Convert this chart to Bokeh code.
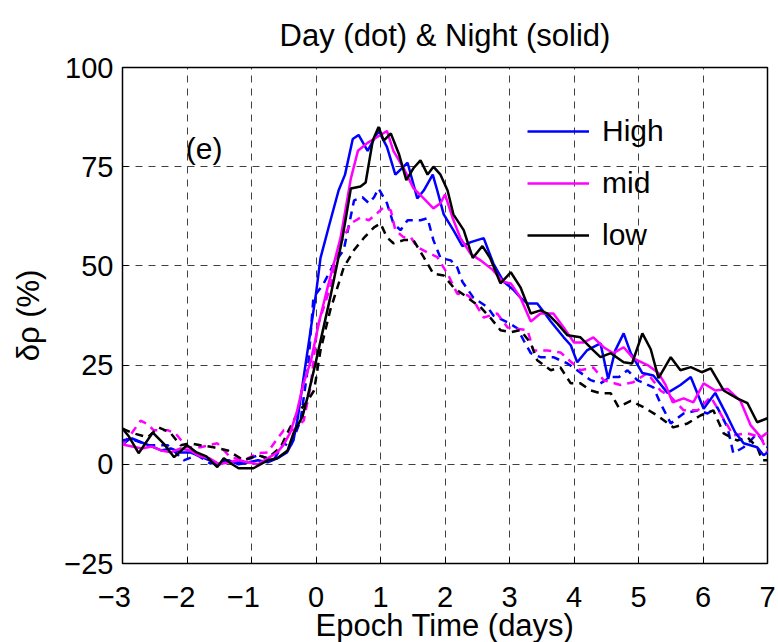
from bokeh.plotting import figure
from bokeh.models import Legend, LegendItem, Label, Title
from bokeh.embed import file_html
from bokeh.resources import INLINE

# ---------------- data ----------------
NIGHT_HIGH_X = [-3.0, -2.85, -2.7, -2.55, -2.4, -2.25, -2.1, -1.95, -1.8, -1.65,
                -1.5, -1.35, -1.2, -1.05, -0.9, -0.75, -0.6, -0.45, -0.35, -0.28,
                -0.2, -0.1, 0.0, 0.07, 0.2, 0.35, 0.45, 0.57, 0.66, 0.8,
                0.97, 1.1, 1.23, 1.42, 1.57, 1.67, 1.81, 1.88, 1.98, 2.13,
                2.27, 2.4, 2.5, 2.6, 2.75, 2.91, 3.06, 3.17, 3.28, 3.43,
                3.55, 3.64, 3.84, 3.95, 4.05, 4.2, 4.41, 4.53, 4.64, 4.77,
                4.88, 5.06, 5.23, 5.45, 5.65, 5.81, 6.01, 6.19, 6.38, 6.5,
                6.63, 6.84, 6.94, 7.0]
NIGHT_HIGH_Y = [6, 6.5, 5.5, 4.5, 3.5, 4, 3, 3, 2, 1,
                0, 1, 0, 0.5, 1, 0.5, 1.5, 3, 6, 12,
                21, 32, 43, 52, 60, 69, 73, 82, 83, 79,
                84, 80, 73, 76, 67, 69, 73, 69, 63, 59,
                55, 56, 56.5, 57, 50.6, 46, 44, 42, 40.5, 40.5,
                38, 36, 32, 30, 25.7, 28.7, 30.5, 21.5, 28.7, 33,
                28, 23, 22.4, 18, 20, 22, 14, 18, 12, 8,
                5.3, 4.3, 2.3, 3]

NIGHT_MID_X = [-3.0, -2.85, -2.7, -2.55, -2.4, -2.25, -2.1, -1.95, -1.8, -1.65,
               -1.5, -1.35, -1.2, -1.05, -0.9, -0.75, -0.6, -0.5, -0.4, -0.3,
               -0.2, -0.08, 0.05, 0.18, 0.38, 0.54, 0.65, 0.8, 1.0, 1.1,
               1.2, 1.36, 1.51, 1.67, 1.82, 1.93, 2.0, 2.12, 2.24, 2.4,
               2.55, 2.74, 2.9, 3.02, 3.17, 3.33, 3.48, 3.68, 3.84, 4.0,
               4.15, 4.3, 4.46, 4.61, 4.77, 4.92, 5.14, 5.31, 5.42, 5.53,
               5.7, 5.85, 6.01, 6.19, 6.38, 6.58, 6.74, 6.9, 7.0]
NIGHT_MID_Y = [5, 4.5, 4, 4.5, 3.5, 3, 4, 3.5, 2, 1.5,
               0, 0.5, 1, 0.5, 0, 1.5, 3, 5, 8, 13,
               20, 26, 36, 44.6, 57, 72, 79, 81, 83, 84,
               79, 74.6, 69.6, 67, 64.5, 65.8, 68, 62, 57, 53,
               51.4, 49, 46, 45.6, 42, 36, 38, 38, 34.5, 30.7,
               30.7, 32, 29.5, 28, 29.5, 26.7, 25, 23, 20, 15.6,
               16.6, 15.6, 20.4, 18.6, 19, 16, 9.8, 6.8, 8]

NIGHT_LOW_X = [-3.0, -2.9, -2.75, -2.53, -2.35, -2.2, -2.0, -1.85, -1.7, -1.53,
               -1.43, -1.3, -1.2, -0.97, -0.75, -0.6, -0.44, -0.35, -0.21, -0.13,
               0.0, 0.22, 0.41, 0.54, 0.69, 0.77, 0.88, 0.97, 1.05, 1.16,
               1.29, 1.4, 1.51, 1.62, 1.73, 1.82, 1.93, 2.04, 2.13, 2.29,
               2.43, 2.58, 2.7, 2.86, 3.02, 3.17, 3.33, 3.48, 3.59, 3.74,
               3.9, 4.1, 4.3, 4.41, 4.57, 4.77, 4.9, 5.06, 5.19, 5.31,
               5.5, 5.65, 5.81, 5.98, 6.12, 6.32, 6.53, 6.69, 6.84, 7.0]
NIGHT_LOW_Y = [9, 7, 2.8, 8, 5, 1.8, 4.8, 3, 2, -0.7,
               1.5, 0, -1, -1, 1, 1.5, 3.5, 7.8, 12, 17,
               26, 42, 57, 69.5, 70, 71, 81.6, 85, 81.6, 83.4,
               78, 71.6, 74.6, 76.6, 73, 75, 73, 69, 63, 59,
               52, 55, 52, 45.6, 48.4, 44.6, 38, 38.8, 38, 35.5,
               32.5, 32, 28.7, 27, 28, 25.7, 25.4, 33, 29, 21.7,
               27, 23.7, 24.5, 23.2, 24.2, 18.6, 16.6, 15.4, 10.6, 11.6]

DAY_HIGH_X = [-3.0, -2.88, -2.6, -2.3, -2.05, -1.84, -1.64, -1.37, -1.17, -0.9,
              -0.66, -0.5, -0.4, -0.24, -0.12, -0.04, 0.12, 0.28, 0.43, 0.59,
              0.72, 0.82, 0.9, 0.97, 1.1, 1.2, 1.31, 1.42, 1.62, 1.73,
              1.82, 1.93, 2.09, 2.19, 2.27, 2.44, 2.66, 2.75, 2.97, 3.12,
              3.22, 3.33, 3.48, 3.68, 3.9, 4.05, 4.26, 4.41, 4.57, 4.7,
              4.83, 4.98, 5.23, 5.34, 5.5, 5.7, 5.92, 6.07, 6.22, 6.38,
              6.47, 6.63, 6.74, 6.84, 7.0]
DAY_HIGH_Y = [5, 6.5, 4.8, 4.8, 1, 2.3, 0.2, 1, 0.5, 2.3,
              1, 5.3, 4.3, 11, 25, 42, 45.6, 50.6, 54, 66.5,
              67.3, 65.8, 67.3, 69.5, 65.8, 60.7, 59, 61.5, 61.5, 62,
              56.5, 52, 51.4, 49.6, 46, 42, 39.6, 37.5, 35.8, 34.3,
              31.2, 28, 27, 27, 25.4, 23.7, 21.2, 20.4, 22, 22,
              23.7, 21.2, 19.4, 15.4, 10.3, 12.8, 13.6, 12.8, 14.4, 9.3,
              2.8, 4.3, 6, 7.8, 4.3]

DAY_MID_X = [-3.0, -2.85, -2.72, -2.6, -2.52, -2.3, -2.18, -2.0, -1.79, -1.53,
             -1.33, -1.12, -0.9, -0.75, -0.62, -0.5, -0.35, -0.19, -0.08, 0.02,
             0.22, 0.38, 0.54, 0.69, 0.82, 0.95, 1.05, 1.16, 1.23, 1.36,
             1.47, 1.57, 1.73, 1.88, 2.04, 2.19, 2.35, 2.44, 2.6, 2.81,
             2.97, 3.28, 3.37, 3.59, 3.79, 4.1, 4.3, 4.46, 4.72, 4.92,
             5.14, 5.34, 5.5, 5.7, 5.92, 6.12, 6.27, 6.47, 6.69, 6.9,
             7.0]
DAY_MID_Y = [5, 8, 11, 10, 8.6, 8.6, 7.8, 4.3, 4.3, 5.3,
             1.8, 1, 2.8, 3, 6, 8.6, 8.6, 11, 20, 34.5,
             44.6, 55.7, 60.7, 62.2, 61.5, 63.3, 64.8, 64, 59, 57.2,
             57.2, 54.7, 53.4, 52.2, 48, 43, 42.6, 41.3, 37, 38,
             34.5, 33.8, 28.7, 28.7, 28.2, 23.7, 24.4, 21.2, 20, 20.7,
             23, 18.6, 17, 13.6, 13.6, 17, 12.8, 7.3, 7.8, 6.8,
             2.8]

DAY_LOW_X = [-3.0, -2.83, -2.61, -2.44, -2.26, -2.1, -1.95, -1.79, -1.59, -1.37,
             -1.12, -0.9, -0.75, -0.55, -0.4, -0.29, -0.13, -0.03, 0.07, 0.22,
             0.43, 0.59, 0.75, 0.9, 1.0, 1.1, 1.2, 1.36, 1.51, 1.67,
             1.82, 1.98, 2.13, 2.35, 2.55, 2.7, 2.86, 3.02, 3.17, 3.33,
             3.43, 3.64, 3.79, 3.95, 4.1, 4.26, 4.41, 4.57, 4.69, 4.88,
             5.08, 5.29, 5.54, 5.76, 5.96, 6.16, 6.32, 6.53, 6.69, 6.84,
             6.92, 7.0]
DAY_LOW_Y = [9, 7.8, 6.8, 9.3, 8, 4.8, 5.3, 4.8, 4.3, 3.5,
             1, 2.3, 1.5, 4.3, 9.3, 12.8, 16, 18.6, 28.7, 38.8,
             49.6, 54, 57.2, 59.7, 60.7, 57.2, 55.7, 56.5, 56.5, 52.2,
             48, 47.6, 44.6, 42, 39.6, 37, 33.8, 33.3, 33.8, 30.5,
             26.2, 23.7, 24.4, 20.4, 20.4, 18.6, 17.9, 17.9, 14.4, 16,
             14.4, 12.3, 9.3, 10.3, 12.3, 13.6, 7.8, 6, 6.8, 4.3,
             1, 1]

SERIES_NAMES = ["High", "mid", "low"]
SERIES_COLORS = ["#0000ff", "#ff00ff", "#000000"]

XTICKS = [-3, -2, -1, 0, 1, 2, 3, 4, 5, 6, 7]
# negative labels carry a trailing figure space so the digit sits on the tick
XTICK_LABELS = ["\u22123\u2007", "\u22122\u2007", "\u22121\u2007", "0", "1", "2", "3", "4", "5", "6", "7"]
YTICKS = [-25, 0, 25, 50, 75, 100]
YTICK_LABELS = ["\u221225", "0", "25", "50", "75", "100"]

TITLE = "Day (dot) & Night (solid)"
XLABEL = "Epoch Time (days)"
YLABEL = "\u03b4\u03c1 (%)"
PANEL = "(e)"

FONT = "Liberation Sans"

# ---------------- figure ----------------
p = figure(width=778, height=642, x_range=(-3, 7), y_range=(-25, 100),
           output_backend="svg", toolbar_location=None,
           min_border_left=122, min_border_right=11,
           min_border_top=67, min_border_bottom=79)

p.background_fill_color = "white"
p.border_fill_color = "white"
p.outline_line_color = "black"
p.outline_line_width = 1.5

p.title.text = TITLE
p.title.align = "center"
p.title.text_font = FONT
p.title.text_font_size = "31px"
p.title.text_font_style = "normal"
p.title.text_color = "black"
p.title.standoff = 29

for ax in (p.xaxis[0], p.yaxis[0]):
    ax.major_label_text_font = FONT
    ax.major_label_text_font_size = "29px"
    ax.major_label_text_color = "black"
    ax.axis_label_text_font = FONT
    ax.axis_label_text_font_size = "31px"
    ax.axis_label_text_font_style = "normal"
    ax.axis_label_text_color = "black"
    ax.major_tick_in = 6
    ax.major_tick_out = 0
    ax.minor_tick_line_color = None
    ax.axis_line_color = "black"
    ax.major_tick_line_color = "black"

p.xaxis.ticker = XTICKS
p.yaxis.ticker = YTICKS
p.xaxis.major_label_overrides = {t: l for t, l in zip(XTICKS, XTICK_LABELS)}
p.yaxis.major_label_overrides = {t: l for t, l in zip(YTICKS, YTICK_LABELS)}
p.yaxis.axis_label = YLABEL
p.xaxis.major_label_standoff = 17
p.yaxis.major_label_standoff = 9
p.yaxis.axis_label_standoff = 15

# x-axis label as a title in the lower panel
p.add_layout(Title(text=XLABEL, align="center", text_font=FONT, text_font_size="31px",
                   text_font_style="normal", text_color="black", standoff=-20), "below")

for g in (p.xgrid[0], p.ygrid[0]):
    g.grid_line_color = "black"
    g.grid_line_alpha = 0.75
    g.grid_line_width = 1
    g.grid_line_dash = "7 6"

night = [(NIGHT_HIGH_X, NIGHT_HIGH_Y), (NIGHT_MID_X, NIGHT_MID_Y), (NIGHT_LOW_X, NIGHT_LOW_Y)]
day = [(DAY_HIGH_X, DAY_HIGH_Y), (DAY_MID_X, DAY_MID_Y), (DAY_LOW_X, DAY_LOW_Y)]

for (xs, ys), c in zip(day, SERIES_COLORS):
    p.line(xs, ys, line_color=c, line_width=2.5, line_dash="8 6")

renderers = []
for (xs, ys), c in zip(night, SERIES_COLORS):
    r = p.line(xs, ys, line_color=c, line_width=2.5)
    renderers.append(r)

legend = Legend(items=[LegendItem(label=n, renderers=[r]) for n, r in zip(SERIES_NAMES, renderers)],
                location=(405, 310), padding=0, margin=0, spacing=16,
                glyph_width=62, glyph_height=36, label_height=36,
                label_standoff=13,
                label_text_font=FONT, label_text_font_size="30px",
                label_text_color="black",
                background_fill_alpha=0, border_line_alpha=0)
p.add_layout(legend, "center")

p.add_layout(Label(x=-2.02, y=79.6, text=PANEL, text_font=FONT, text_font_size="30px",
                   text_baseline="middle", text_align="left", text_color="black"))

open("out.html", "w").write(file_html(p, INLINE))
